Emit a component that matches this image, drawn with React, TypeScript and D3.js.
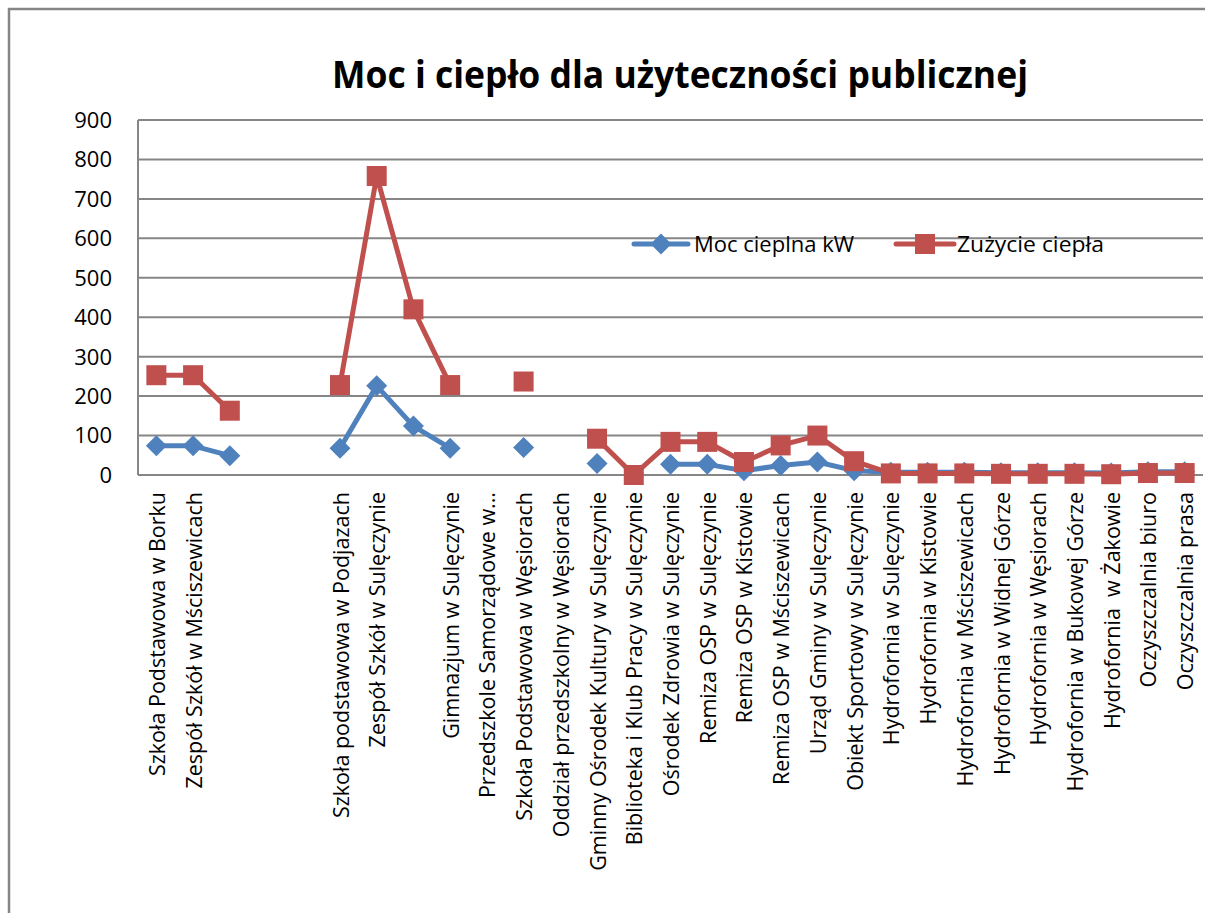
import React from "react";
import * as d3 from "d3";

const categories: string[] = [
  "Szkoła Podstawowa w Borku",
  "Zespół Szkół w Mściszewicach",
  "",
  "",
  "",
  "Szkoła podstawowa w Podjazach",
  "Zespół Szkół w Sulęczynie",
  "",
  "Gimnazjum w Sulęczynie",
  "Przedszkole Samorządowe w...",
  "Szkoła Podstawowa w Węsiorach",
  "Oddział przedszkolny w Węsiorach",
  "Gminny Ośrodek Kultury w Sulęczynie",
  "Biblioteka i Klub Pracy w Sulęczynie",
  "Ośrodek Zdrowia w Sulęczynie",
  "Remiza OSP w Sulęczynie",
  "Remiza OSP w Kistowie",
  "Remiza OSP w Mściszewicach",
  "Urząd Gminy w Sulęczynie",
  "Obiekt Sportowy w Sulęczynie",
  "Hydrofornia w Sulęczynie",
  "Hydrofornia w Kistowie",
  "Hydrofornia w Mściszewicach",
  "Hydrofornia w Widnej Górze",
  "Hydrofornia w Węsiorach",
  "Hydrofornia w Bukowej Górze",
  "Hydrofornia  w Żakowie",
  "Oczyszczalnia biuro",
  "Oczyszczalnia prasa",
];

const mocCieplna: (number | null)[] = [
  74, 74, 49, null, null, 68, 226, 124, 68, null, 70, null, 29, null,
  27, 27, 11, 24, 33, 11, 7, 7, 7, 6, 6, 6, 5, 8, 8,
];

const zuzycieCiepla: (number | null)[] = [
  253, 253, 163, null, null, 228, 758, 420, 228, null, 237, null, 92, 0,
  84, 84, 33, 75, 100, 35, 4, 4, 4, 3, 3, 3, 2, 5, 5,
];

const yTicks: number[] = [0, 100, 200, 300, 400, 500, 600, 700, 800, 900];

const seriesNames = ["Moc cieplna kW", "Zużycie ciepła"];
const BLUE = "#4F81BD";
const RED = "#C0504D";
const GRID = "#868686";
const FONT = "'Open Sans', sans-serif";

export default function App() {
  const W = 1205;
  const H = 913;
  const left = 138;
  const right = 1203;
  const top = 120;
  const bottom = 475;

  const x = d3
    .scaleBand<number>()
    .domain(categories.map((_, i) => i))
    .range([left, right]);
  const cx = (i: number) => (x(i) as number) + x.bandwidth() / 2;
  const y = d3.scaleLinear().domain([0, 900]).range([bottom, top]);

  const line = d3
    .line<number | null>()
    .defined((d) => d != null)
    .x((_, i) => cx(i))
    .y((d) => y(d as number));

  const diamond = (px: number, py: number, r = 10.5) =>
    `M${px},${py - r}L${px + r},${py}L${px},${py + r}L${px - r},${py}Z`;

  const sq = 10;

  // legend
  const legY = 244;
  const leg1x0 = 634, leg1x1 = 688;
  const leg2x0 = 896, leg2x1 = 954;

  return (
    <svg
      width={W}
      height={H}
      style={{ position: "absolute", left: 0, top: 0, background: "#fff" }}
      fontFamily={FONT}
    >
      <rect x={0} y={0} width={W} height={H} fill="#fff" />
      <rect
        x={9}
        y={9}
        width={W + 20}
        height={H + 20}
        fill="#fff"
        stroke={GRID}
        strokeWidth={2.5}
      />
      <text
        x={680}
        y={88}
        textAnchor="middle"
        fontSize={37}
        fontWeight="bold"
        fill="#000"
        textLength={696}
        lengthAdjust="spacingAndGlyphs"
      >
        Moc i ciepło dla użyteczności publicznej
      </text>

      {yTicks.map((t) => (
        <g key={t}>
          <line
            x1={left}
            x2={right}
            y1={y(t)}
            y2={y(t)}
            stroke={GRID}
            strokeWidth={2}
          />
          <text
            x={112}
            y={y(t)}
            dy="0.36em"
            textAnchor="end"
            fontSize={22}
            fill="#000"
          >
            {t}
          </text>
        </g>
      ))}
      <line x1={left} x2={left} y1={top} y2={bottom} stroke={GRID} strokeWidth={2} />

      {categories.map((c, i) => (
        <text
          key={i}
          transform={`translate(${cx(i) + 1},${492}) rotate(-90)`}
          dy="0.35em"
          textAnchor="end"
          fontSize={21.5}
          fill="#000"
          style={{ whiteSpace: "pre" }}
        >
          {c}
        </text>
      ))}

      {/* Moc cieplna */}
      <path
        d={line(mocCieplna) || ""}
        fill="none"
        stroke={BLUE}
        strokeWidth={5}
        strokeLinejoin="round"
      />
      {mocCieplna.map((v, i) =>
        v == null ? null : (
          <path key={i} d={diamond(cx(i), y(v))} fill={BLUE} />
        )
      )}

      {/* Zużycie ciepła */}
      <path
        d={line(zuzycieCiepla) || ""}
        fill="none"
        stroke={RED}
        strokeWidth={5}
        strokeLinejoin="round"
      />
      {zuzycieCiepla.map((v, i) =>
        v == null ? null : (
          <rect
            key={i}
            x={cx(i) - sq}
            y={y(v) - sq}
            width={sq * 2}
            height={sq * 2}
            fill={RED}
          />
        )
      )}

      {/* legend */}
      <line x1={leg1x0} x2={leg1x1} y1={legY} y2={legY} stroke={BLUE} strokeWidth={5} strokeLinecap="round" />
      <path d={diamond((leg1x0 + leg1x1) / 2, legY)} fill={BLUE} />
      <text x={694} y={legY} dy="0.36em" fontSize={22} fill="#000">
        {seriesNames[0]}
      </text>
      <line x1={leg2x0} x2={leg2x1} y1={legY} y2={legY} stroke={RED} strokeWidth={5} strokeLinecap="round" />
      <rect x={(leg2x0 + leg2x1) / 2 - sq} y={legY - sq} width={sq * 2} height={sq * 2} fill={RED} />
      <text x={957} y={legY} dy="0.36em" fontSize={22} fill="#000" textLength={147} lengthAdjust="spacingAndGlyphs">
        {seriesNames[1]}
      </text>
    </svg>
  );
}
